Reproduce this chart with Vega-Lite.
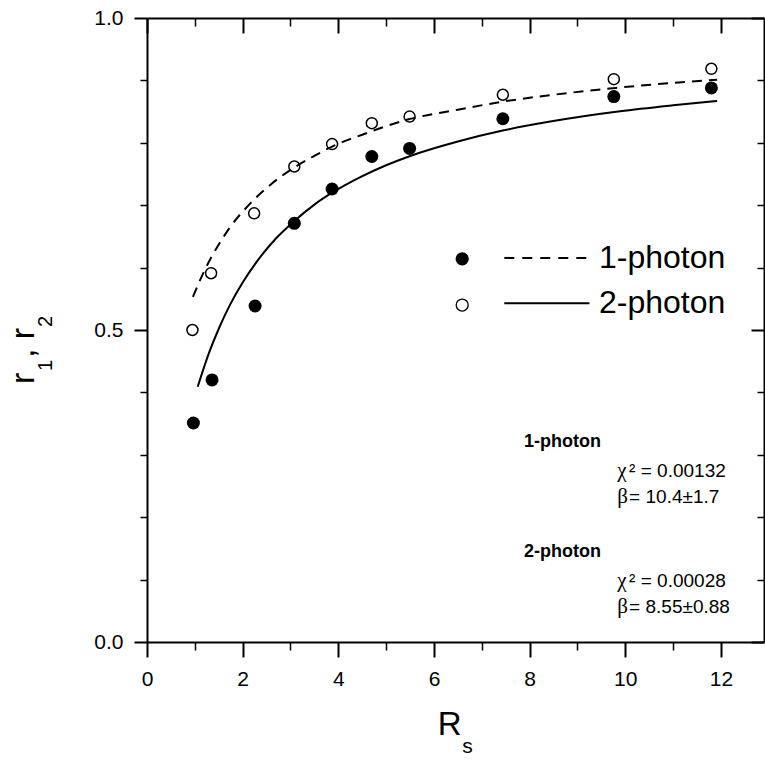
{
  "$schema": "https://vega.github.io/schema/vega-lite/v6.json",
  "width": 617,
  "height": 624,
  "autosize": {"type": "none"},
  "padding": {"left": 147, "top": 18, "right": 1, "bottom": 118},
  "background": "white",
  "config": {
    "view": {"stroke": null},
    "font": "Liberation Sans",
    "text": {"font": "Liberation Sans", "color": "black"},
    "axis": {
      "grid": false,
      "domainColor": "black",
      "tickColor": "black",
      "labelColor": "black",
      "labelFont": "Liberation Sans",
      "labelFontSize": 21,
      "domainWidth": 2,
      "tickWidth": 2,
      "labelFlush": false,
      "labelOverlap": false,
      "labelBound": false,
      "title": null
    }
  },
  "datasets": {
    "points": [
      {"series": "1-photon", "R": 0.97, "r": 0.351},
      {"series": "1-photon", "R": 1.36, "r": 0.42},
      {"series": "1-photon", "R": 2.26, "r": 0.5385},
      {"series": "1-photon", "R": 3.08, "r": 0.671},
      {"series": "1-photon", "R": 3.87, "r": 0.726},
      {"series": "1-photon", "R": 4.7, "r": 0.778},
      {"series": "1-photon", "R": 5.49, "r": 0.791},
      {"series": "1-photon", "R": 7.44, "r": 0.8385},
      {"series": "1-photon", "R": 9.76, "r": 0.874},
      {"series": "1-photon", "R": 11.8, "r": 0.888},
      {"series": "2-photon", "R": 0.95, "r": 0.5},
      {"series": "2-photon", "R": 1.34, "r": 0.591},
      {"series": "2-photon", "R": 2.24, "r": 0.687},
      {"series": "2-photon", "R": 3.08, "r": 0.762},
      {"series": "2-photon", "R": 3.87, "r": 0.798},
      {"series": "2-photon", "R": 4.7, "r": 0.8315},
      {"series": "2-photon", "R": 5.49, "r": 0.842},
      {"series": "2-photon", "R": 7.44, "r": 0.877},
      {"series": "2-photon", "R": 9.76, "r": 0.902},
      {"series": "2-photon", "R": 11.8, "r": 0.9186}
    ],
    "fits": [
      {"curve": "1-photon", "R": 0.96, "r": 0.553},
      {"curve": "1-photon", "R": 1.2, "r": 0.595},
      {"curve": "1-photon", "R": 1.5, "r": 0.637},
      {"curve": "1-photon", "R": 1.74, "r": 0.665},
      {"curve": "1-photon", "R": 2.16, "r": 0.703},
      {"curve": "1-photon", "R": 2.6, "r": 0.734},
      {"curve": "1-photon", "R": 3.07, "r": 0.76},
      {"curve": "1-photon", "R": 3.5, "r": 0.779},
      {"curve": "1-photon", "R": 3.87, "r": 0.794},
      {"curve": "1-photon", "R": 4.5, "r": 0.813},
      {"curve": "1-photon", "R": 5.49, "r": 0.838},
      {"curve": "1-photon", "R": 6.5, "r": 0.853},
      {"curve": "1-photon", "R": 7.44, "r": 0.866},
      {"curve": "1-photon", "R": 8.5, "r": 0.877},
      {"curve": "1-photon", "R": 9.8, "r": 0.888},
      {"curve": "1-photon", "R": 11.0, "r": 0.896},
      {"curve": "1-photon", "R": 11.92, "r": 0.901},
      {"curve": "2-photon", "R": 1.06, "r": 0.409},
      {"curve": "2-photon", "R": 1.3, "r": 0.464},
      {"curve": "2-photon", "R": 1.5, "r": 0.502},
      {"curve": "2-photon", "R": 1.74, "r": 0.541},
      {"curve": "2-photon", "R": 2.0, "r": 0.576},
      {"curve": "2-photon", "R": 2.3, "r": 0.61},
      {"curve": "2-photon", "R": 2.7, "r": 0.647},
      {"curve": "2-photon", "R": 3.07, "r": 0.674},
      {"curve": "2-photon", "R": 3.5, "r": 0.701},
      {"curve": "2-photon", "R": 3.87, "r": 0.72},
      {"curve": "2-photon", "R": 4.46, "r": 0.745},
      {"curve": "2-photon", "R": 5.0, "r": 0.764},
      {"curve": "2-photon", "R": 5.49, "r": 0.7785},
      {"curve": "2-photon", "R": 6.5, "r": 0.802},
      {"curve": "2-photon", "R": 7.46, "r": 0.82},
      {"curve": "2-photon", "R": 8.43, "r": 0.834},
      {"curve": "2-photon", "R": 9.89, "r": 0.8505},
      {"curve": "2-photon", "R": 11.0, "r": 0.86},
      {"curve": "2-photon", "R": 11.92, "r": 0.867}
    ],
    "anchor": [{}]
  },
  "resolve": {"axis": {"x": "independent", "y": "independent"}},
  "layer": [
    {
      "data": {"name": "points"},
      "transform": [{"filter": "datum.series === '1-photon'"}],
      "mark": {"type": "point", "shape": "circle", "filled": true, "color": "black", "size": 169, "opacity": 1},
      "encoding": {
        "x": {"field": "R", "type": "quantitative", "scale": {"domain": [0, 12.9], "nice": false, "zero": false},
          "axis": {"orient": "bottom", "values": [0, 2, 4, 6, 8, 10, 12], "format": "d", "tickSize": 15, "labelPadding": 11}},
        "y": {"field": "r", "type": "quantitative", "scale": {"domain": [0, 1], "nice": false, "zero": false},
          "axis": {"orient": "left", "values": [0, 0.5, 1], "format": ".1f", "tickSize": 13, "labelPadding": 11}}
      }
    },
    {
      "data": {"name": "points"},
      "transform": [{"filter": "datum.series === '2-photon'"}],
      "mark": {"type": "point", "shape": "circle", "filled": false, "stroke": "black", "strokeWidth": 1.5, "size": 121, "opacity": 1},
      "encoding": {
        "x": {"field": "R", "type": "quantitative", "scale": {"domain": [0, 12.9], "nice": false, "zero": false},
          "axis": {"orient": "bottom", "values": [1, 3, 5, 7, 9, 11], "tickSize": 8, "labels": false, "domain": false, "tickWidth": 1.5}},
        "y": {"field": "r", "type": "quantitative", "scale": {"domain": [0, 1], "nice": false, "zero": false},
          "axis": {"orient": "left", "values": [0.1, 0.2, 0.3, 0.4, 0.6, 0.7, 0.8, 0.9], "tickSize": 7, "labels": false, "domain": false, "tickWidth": 1.5}}
      }
    },
    {
      "data": {"name": "fits"},
      "transform": [{"filter": "datum.curve === '1-photon'"}],
      "mark": {"type": "line", "color": "black", "strokeWidth": 2, "strokeDash": [10, 7], "interpolate": "monotone"},
      "encoding": {
        "x": {"field": "R", "type": "quantitative", "scale": {"domain": [0, 12.9], "nice": false, "zero": false},
          "axis": {"orient": "top", "values": [0, 2, 4, 6, 8, 10, 12], "tickSize": -15, "labels": false}},
        "y": {"field": "r", "type": "quantitative", "scale": {"domain": [0, 1], "nice": false, "zero": false},
          "axis": {"orient": "right", "values": [0, 0.5, 1], "tickSize": -13, "labels": false}}
      }
    },
    {
      "data": {"name": "fits"},
      "transform": [{"filter": "datum.curve === '2-photon'"}],
      "mark": {"type": "line", "color": "black", "strokeWidth": 2, "interpolate": "monotone"},
      "encoding": {
        "x": {"field": "R", "type": "quantitative", "scale": {"domain": [0, 12.9], "nice": false, "zero": false},
          "axis": {"orient": "top", "values": [1, 3, 5, 7, 9, 11], "tickSize": -8, "labels": false, "domain": false, "tickWidth": 1.5}},
        "y": {"field": "r", "type": "quantitative", "scale": {"domain": [0, 1], "nice": false, "zero": false},
          "axis": {"orient": "right", "values": [0.1, 0.2, 0.3, 0.4, 0.6, 0.7, 0.8, 0.9], "tickSize": -7, "labels": false, "domain": false, "tickWidth": 1.5}}
      }
    },
    {
      "data": {"name": "anchor"},
      "mark": {"type": "point", "shape": "circle", "filled": true, "color": "black", "size": 177, "opacity": 1},
      "encoding": {"x": {"datum": 6.59, "axis": null}, "y": {"datum": 0.614, "axis": null}}
    },
    {
      "data": {"name": "anchor"},
      "mark": {"type": "point", "shape": "circle", "filled": false, "stroke": "black", "strokeWidth": 1.3, "size": 144, "opacity": 1},
      "encoding": {"x": {"datum": 6.59, "axis": null}, "y": {"datum": 0.54, "axis": null}}
    },
    {
      "data": {"name": "anchor"},
      "mark": {"type": "rule", "color": "black", "strokeWidth": 2, "strokeDash": [10, 8]},
      "encoding": {"x": {"datum": 7.47, "axis": null}, "x2": {"datum": 9.25}, "y": {"datum": 0.6155, "axis": null}}
    },
    {
      "data": {"name": "anchor"},
      "mark": {"type": "rule", "color": "black", "strokeWidth": 2},
      "encoding": {"x": {"datum": 7.47, "axis": null}, "x2": {"datum": 9.25}, "y": {"datum": 0.543, "axis": null}}
    },
    {
      "data": {"name": "anchor"},
      "mark": {"type": "text", "text": "1-photon", "fontSize": 32, "align": "left", "baseline": "alphabetic"},
      "encoding": {"x": {"datum": 9.45, "axis": null}, "y": {"datum": 0.5994, "axis": null}}
    },
    {
      "data": {"name": "anchor"},
      "mark": {"type": "text", "text": "2-photon", "fontSize": 32, "align": "left", "baseline": "alphabetic"},
      "encoding": {"x": {"datum": 9.45, "axis": null}, "y": {"datum": 0.5268, "axis": null}}
    },
    {
      "data": {"name": "anchor"},
      "mark": {"type": "text", "text": "1-photon", "fontSize": 18, "fontWeight": "bold", "align": "left", "baseline": "alphabetic"},
      "encoding": {"x": {"datum": 7.88, "axis": null}, "y": {"datum": 0.3123, "axis": null}}
    },
    {
      "data": {"name": "anchor"},
      "mark": {"type": "text", "text": ["χ", "β"], "font": "Liberation Serif", "fontSize": 21, "lineHeight": 26, "align": "left", "baseline": "alphabetic"},
      "encoding": {"x": {"datum": 9.83, "axis": null}, "y": {"datum": 0.2642, "axis": null}}
    },
    {
      "data": {"name": "anchor"},
      "mark": {"type": "text", "text": ["² = 0.00132", " = 10.4±1.7"], "fontSize": 19, "lineHeight": 26, "align": "left", "baseline": "alphabetic"},
      "encoding": {"x": {"datum": 10.08, "axis": null}, "y": {"datum": 0.2642, "axis": null}}
    },
    {
      "data": {"name": "anchor"},
      "mark": {"type": "text", "text": "2-photon", "fontSize": 18, "fontWeight": "bold", "align": "left", "baseline": "alphabetic"},
      "encoding": {"x": {"datum": 7.88, "axis": null}, "y": {"datum": 0.1359, "axis": null}}
    },
    {
      "data": {"name": "anchor"},
      "mark": {"type": "text", "text": ["χ", "β"], "font": "Liberation Serif", "fontSize": 21, "lineHeight": 26, "align": "left", "baseline": "alphabetic"},
      "encoding": {"x": {"datum": 9.83, "axis": null}, "y": {"datum": 0.0877, "axis": null}}
    },
    {
      "data": {"name": "anchor"},
      "mark": {"type": "text", "text": ["² = 0.00028", " = 8.55±0.88"], "fontSize": 19, "lineHeight": 26, "align": "left", "baseline": "alphabetic"},
      "encoding": {"x": {"datum": 10.08, "axis": null}, "y": {"datum": 0.0877, "axis": null}}
    },
    {
      "data": {"name": "anchor"},
      "mark": {"type": "text", "text": "R", "fontSize": 33, "align": "left", "baseline": "alphabetic"},
      "encoding": {"x": {"datum": 6.08, "axis": null}, "y": {"datum": -0.1497, "axis": null}}
    },
    {
      "data": {"name": "anchor"},
      "mark": {"type": "text", "text": "s", "fontSize": 21, "align": "left", "baseline": "alphabetic"},
      "encoding": {"x": {"datum": 6.59, "axis": null}, "y": {"datum": -0.1786, "axis": null}}
    },
    {
      "data": {"name": "anchor"},
      "mark": {"type": "text", "text": "r", "fontSize": 34, "angle": 270, "align": "left", "baseline": "alphabetic"},
      "encoding": {"x": {"datum": -2.367, "axis": null}, "y": {"datum": 0.4134, "axis": null}}
    },
    {
      "data": {"name": "anchor"},
      "mark": {"type": "text", "text": "1", "fontSize": 20, "angle": 270, "align": "left", "baseline": "alphabetic"},
      "encoding": {"x": {"datum": -1.98, "axis": null}, "y": {"datum": 0.4342, "axis": null}}
    },
    {
      "data": {"name": "anchor"},
      "mark": {"type": "text", "text": ", r", "fontSize": 34, "angle": 270, "align": "left", "baseline": "alphabetic"},
      "encoding": {"x": {"datum": -2.367, "axis": null}, "y": {"datum": 0.4551, "axis": null}}
    },
    {
      "data": {"name": "anchor"},
      "mark": {"type": "text", "text": "2", "fontSize": 20, "angle": 270, "align": "left", "baseline": "alphabetic"},
      "encoding": {"x": {"datum": -1.98, "axis": null}, "y": {"datum": 0.5048, "axis": null}}
    }
  ]
}
